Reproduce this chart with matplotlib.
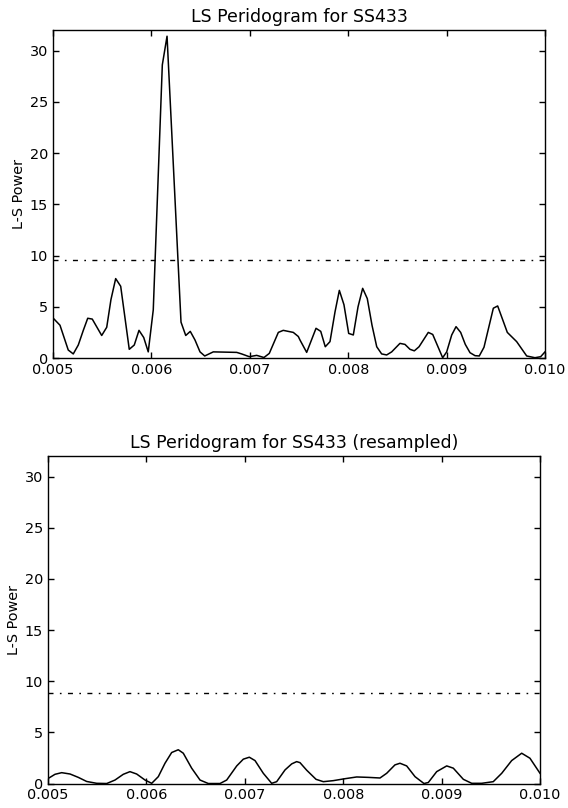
import numpy as np
import matplotlib
matplotlib.use("Agg")
import matplotlib.pyplot as plt

# frequencies / L-S power (top panel)
freq_orig = [0.005003, 0.005071, 0.005155, 0.005206, 0.005257, 0.005308, 0.005353, 0.005399,
             0.005495, 0.005546, 0.005589, 0.005637, 0.005688, 0.005775, 0.005826, 0.005874,
             0.005922, 0.005968, 0.006019, 0.006111, 0.006159, 0.006301, 0.006349, 0.006395,
             0.006443, 0.006494, 0.006542, 0.006629, 0.006867, 0.006917, 0.006995, 0.007070,
             0.007144, 0.007198, 0.007290, 0.007340, 0.007442, 0.007493, 0.007510, 0.007578,
             0.007673, 0.007721, 0.007767, 0.007815, 0.007866, 0.007910, 0.007957, 0.008005,
             0.008052, 0.008100, 0.008147, 0.008194, 0.008242, 0.008290, 0.008340, 0.008391,
             0.008442, 0.008526, 0.008577, 0.008628, 0.008672, 0.008720, 0.008814, 0.008859,
             0.008960, 0.009001, 0.009052, 0.009096, 0.009143, 0.009190, 0.009238, 0.009289,
             0.009332, 0.009380, 0.009475, 0.009519, 0.009617, 0.009712, 0.009814, 0.009898,
             0.009956, 0.010000]
power_orig = [3.88, 3.2, 0.78, 0.4, 1.27, 2.7, 3.88, 3.8,
              2.2, 3.0, 5.7, 7.75, 7.0, 0.85, 1.27, 2.7,
              2.0, 0.6, 4.7, 28.6, 31.4, 3.5, 2.2, 2.6,
              1.76, 0.6, 0.2, 0.6, 0.55, 0.4, 0.13, 0.26,
              0.05, 0.45, 2.5, 2.7, 2.5, 2.1, 1.76, 0.55,
              2.9, 2.6, 1.1, 1.6, 4.5, 6.6, 5.2, 2.4,
              2.25, 5.0, 6.8, 5.8, 3.2, 1.1, 0.4, 0.3,
              0.6, 1.43, 1.33, 0.85, 0.7, 1.1, 2.5, 2.3,
              0.03, 0.6, 2.25, 3.06, 2.5, 1.33, 0.52, 0.23,
              0.2, 1.05, 4.86, 5.08, 2.5, 1.6, 0.2, 0.03,
              0.13, 0.6]
thresh_orig = 9.55

# resampled periodogram (bottom panel)
freq_res = [0.005003, 0.005071, 0.005139, 0.005224, 0.005308, 0.005393, 0.005495, 0.005597,
            0.005681, 0.005765, 0.005833, 0.005901, 0.005986, 0.006054, 0.006121, 0.006189,
            0.006257, 0.006324, 0.006375, 0.006460, 0.006545, 0.006629, 0.006748, 0.006816,
            0.006918, 0.006985, 0.007046, 0.007104, 0.007188, 0.007273, 0.007324, 0.007409,
            0.007477, 0.007527, 0.007561, 0.007629, 0.007724, 0.007798, 0.007899, 0.008018,
            0.008137, 0.008255, 0.008374, 0.008442, 0.008526, 0.008577, 0.008645, 0.008730,
            0.008821, 0.008865, 0.008950, 0.009052, 0.009119, 0.009221, 0.009306, 0.009407,
            0.009525, 0.009611, 0.009712, 0.009814, 0.009898, 0.010000]
power_res = [0.5, 0.9, 1.06, 0.93, 0.6, 0.2, 0.02, 0.0,
             0.34, 0.9, 1.16, 0.93, 0.34, 0.02, 0.67, 1.98,
             3.03, 3.3, 2.96, 1.5, 0.34, 0.0, 0.0, 0.34,
             1.72, 2.38, 2.57, 2.24, 1.0, 0.02, 0.18, 1.33,
             1.92, 2.14, 2.04, 1.3, 0.41, 0.18, 0.28, 0.47,
             0.64, 0.6, 0.54, 1.0, 1.82, 1.98, 1.72, 0.67,
             0.0, 0.1, 1.16, 1.72, 1.5, 0.41, 0.02, 0.02,
             0.18, 1.0, 2.24, 2.96, 2.47, 1.0]
thresh_res = 8.85

plt.rcParams["font.size"] = 10.4

fig = plt.figure(figsize=(5.68, 8.08), dpi=100)
ax1 = fig.add_axes([0.0933, 0.5569, 0.8662, 0.4059])
ax2 = fig.add_axes([0.0845, 0.0303, 0.8662, 0.4053])

panels = [(ax1, freq_orig, power_orig, thresh_orig, "LS Peridogram for SS433"),
          (ax2, freq_res, power_res, thresh_res, "LS Peridogram for SS433 (resampled)")]

for ax, f, p, t, title in panels:
    ax.plot(f, p, color="black", linewidth=1.1)
    # old-style dash-dot significance line
    ax.axhline(t, color="black", linewidth=1.0, linestyle=(0, (3.6, 4.6, 1.2, 4.6)))
    ax.set_xlim(0.005, 0.010)
    ax.set_ylim(0, 32)
    ax.set_xticks([0.005, 0.006, 0.007, 0.008, 0.009, 0.010])
    ax.set_xticklabels(["0.005", "0.006", "0.007", "0.008", "0.009", "0.010"])
    ax.set_yticks([0, 5, 10, 15, 20, 25, 30])
    ax.tick_params(direction="in", top=True, right=True, length=4, width=1)
    ax.set_title(title, fontsize=12.5)
    ax.set_ylabel("L-S Power", labelpad=2.5)
    for s in ax.spines.values():
        s.set_linewidth(1.0)

fig.savefig("out.png", dpi=100)
